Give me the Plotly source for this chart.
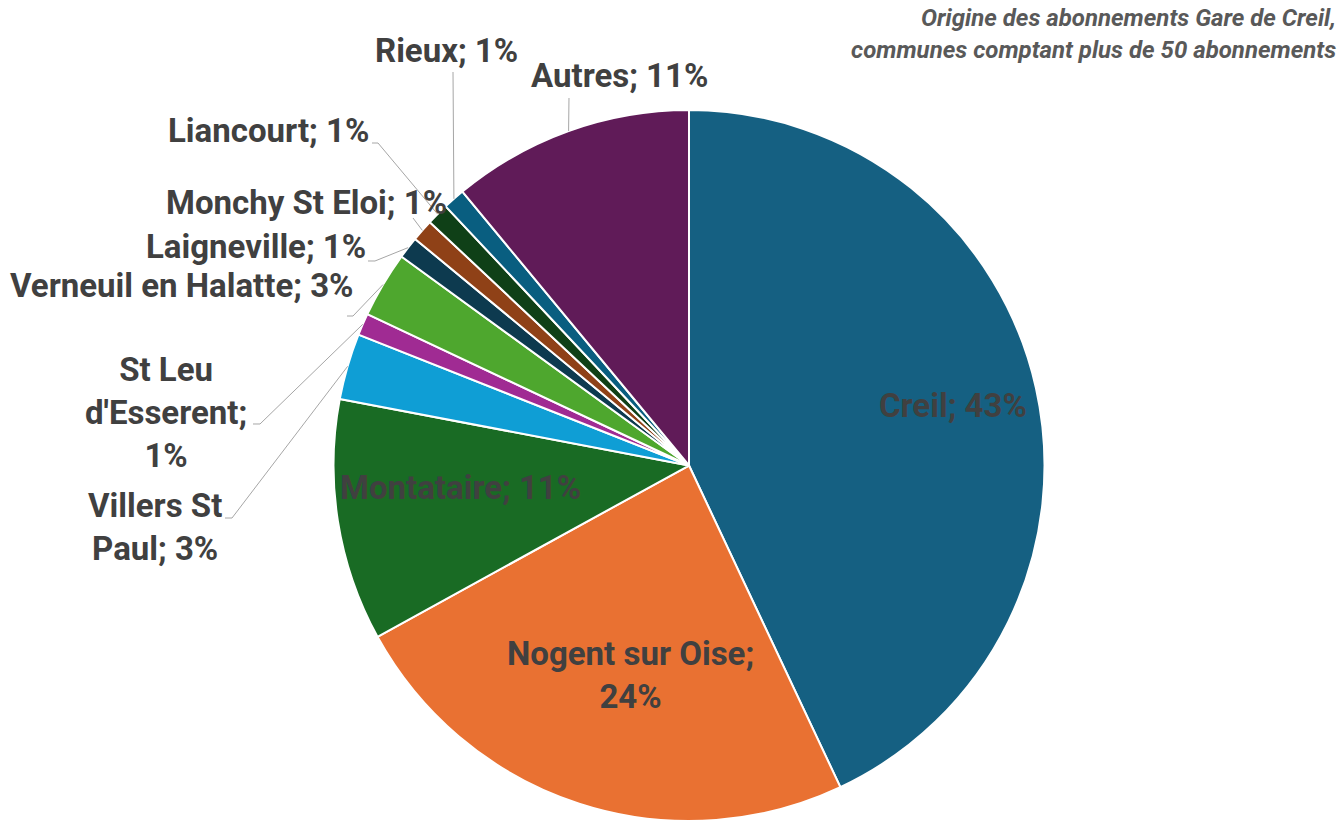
import math
import plotly.graph_objects as go

# ---- data ----
communes = ["Creil", "Nogent sur Oise", "Montataire", "Villers St Paul", "St Leu d'Esserent",
            "Verneuil en Halatte", "Laigneville", "Monchy St Eloi", "Liancourt", "Rieux", "Autres"]
parts = [43, 24, 11, 3, 1, 3, 1, 1, 1, 1, 11]
label_texts = ["Creil; 43%", "Nogent sur Oise;<br>24%", "Montataire; 11%", "Villers St<br>Paul; 3%",
               "St Leu<br>d'Esserent;<br>1%", "Verneuil en Halatte; 3%", "Laigneville; 1%",
               "Monchy St Eloi; 1%", "Liancourt; 1%", "Rieux; 1%", "Autres; 11%"]
colors = ["#156082", "#E97132", "#196B24", "#0F9ED5", "#A02B93", "#4EA72E",
          "#0D3A4F", "#8F4117", "#0F4017", "#095E80", "#601B58"]
title_lines = ["Origine des abonnements Gare de Creil,", "communes comptant plus de 50 abonnements"]

# ---- layout (pixel positions of label centres and leader starts) ----
W, H = 1341, 821
label_pos = {
    "Creil": (953, 405), "Nogent sur Oise": (630, 675), "Montataire": (460, 487),
    "Villers St Paul": (155, 527), "St Leu d'Esserent": (166, 413),
    "Verneuil en Halatte": (181, 285), "Laigneville": (256, 247),
    "Monchy St Eloi": (306, 203), "Liancourt": (268, 131), "Rieux": (446, 51), "Autres": (619, 76),
}
leader_start = {
    "Villers St Paul": [(225, 518), (232, 518)],
    "St Leu d'Esserent": [(253, 424), (260, 424)],
    "Verneuil en Halatte": [(347, 316), (353, 316)],
    "Laigneville": [(368, 261), (375, 261)],
    "Monchy St Eloi": [(413, 218)],
    "Liancourt": [(372, 143), (378, 143)],
    "Rieux": [(453, 72)],
    "Autres": [(569, 98)],
}

dom_x = [0.2138, 0.8138]
dom_y = [0.0, 0.8660]
cx = (dom_x[0] + dom_x[1]) / 2 * W
cy = (1 - (dom_y[0] + dom_y[1]) / 2) * H
R = min((dom_x[1] - dom_x[0]) * W, (dom_y[1] - dom_y[0]) * H) / 2

def px2paper(x, y):
    return x / W, 1 - y / H

fig = go.Figure()
fig.add_trace(go.Pie(
    labels=communes, values=parts, sort=False, direction="clockwise", rotation=0,
    marker=dict(colors=colors, line=dict(color="white", width=2)),
    textinfo="none", hoverinfo="label+percent", showlegend=False,
    domain=dict(x=dom_x, y=dom_y),
))

total = sum(parts)
cum = 0
shapes = []
annotations = []
for name, v, txt in zip(communes, parts, label_texts):
    mid = (cum + v / 2) / total * 2 * math.pi
    cum += v
    ex = cx + R * math.sin(mid)
    ey = cy - R * math.cos(mid)
    if name in leader_start:
        pts = leader_start[name] + [(ex, ey)]
        path = "M " + " L ".join(
            "{:.5f},{:.5f}".format(*px2paper(px, py)) for px, py in pts)
        shapes.append(dict(type="path", path=path, xref="paper", yref="paper",
                           line=dict(color="#A6A6A6", width=1)))
    lx, ly = px2paper(*label_pos[name])
    annotations.append(dict(
        x=lx, y=ly, xref="paper", yref="paper", text="<b>" + txt + "</b>",
        showarrow=False, xanchor="center", yanchor="middle", align="center",
        font=dict(family="Roboto", size=33, color="#404040"),
    ))

for i, line in enumerate(title_lines):
    tx, ty = px2paper(1338, 18 + 32 * i)
    annotations.append(dict(
        x=tx, y=ty, xref="paper", yref="paper", text="<b><i>" + line + "</i></b>",
        showarrow=False, xanchor="right", yanchor="middle",
        font=dict(family="Roboto", size=24, color="#595959"),
    ))

fig.update_layout(
    width=W, height=H, margin=dict(l=0, r=0, t=0, b=0),
    paper_bgcolor="white", plot_bgcolor="white",
    shapes=shapes, annotations=annotations,
)
fig.write_html("out.html", config={"displayModeBar": False},
               post_script="document.body.style.margin='0';document.body.style.overflow='hidden';")
